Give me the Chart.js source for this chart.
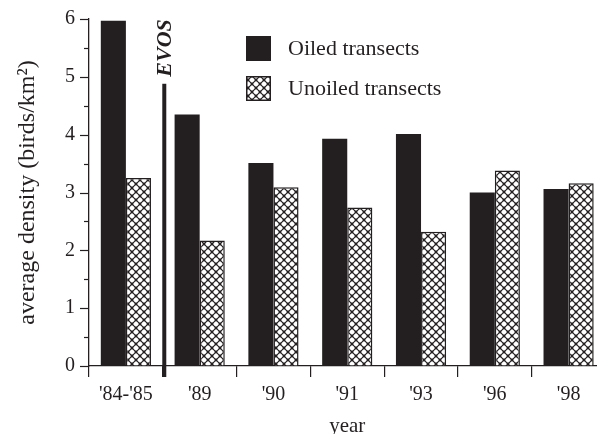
<!DOCTYPE html>
<html>
<head>
<meta charset="utf-8">
<script src="https://cdn.jsdelivr.net/npm/chart.js@4"></script>
<style>
  html, body { margin: 0; padding: 0; background: #fff; overflow: hidden; }
  #wrap { width: 597px; height: 434px; overflow: hidden; }
  canvas { display: block; }
</style>
</head>
<body>
<div id="wrap"><canvas id="chart" width="615" height="434"></canvas></div>
<script>
// Survey years and mean bird densities on oiled vs. unoiled transects
const years = ["'84-'85", "'89", "'90", "'91", "'93", "'96", "'98"];
const oiled = [5.97, 4.35, 3.51, 3.93, 4.01, 3.00, 3.06];
const unoiled = [3.25, 2.17, 3.09, 2.74, 2.32, 3.38, 3.16];
const seriesNames = ['Oiled transects', 'Unoiled transects'];
const yTicks = [0, 1, 2, 3, 4, 5, 6];

// Oil spill marker: drawn between the first two survey periods
const spillLabel = 'EVOS';
const spillTop = 4.88;

const INK = '#231f20';
const SERIF = "'Liberation Serif', 'Times New Roman', serif";

function crossHatch() {
  const c = document.createElement('canvas');
  c.width = 8; c.height = 8;
  const g = c.getContext('2d');
  g.fillStyle = '#fff';
  g.fillRect(0, 0, 8, 8);
  g.strokeStyle = INK;
  g.lineWidth = 1.2;
  g.beginPath();
  g.moveTo(-1, -1); g.lineTo(9, 9);
  g.moveTo(9, -1); g.lineTo(-1, 9);
  g.stroke();
  g.fillStyle = INK;
  [[0, 0], [8, 0], [0, 8], [8, 8], [4, 4]].forEach(([x, y]) => {
    g.beginPath(); g.arc(x, y, 1.4, 0, Math.PI * 2); g.fill();
  });
  return g.createPattern(c, 'repeat');
}
const hatch = crossHatch();

// Axis tick marks (major + half-unit minor), spill marker and legend
const extras = {
  id: 'extras',
  afterDraw(chart) {
    const ctx = chart.ctx;
    const y = chart.scales.y, x = chart.scales.x;
    const ax = chart.chartArea.left;
    ctx.save();
    ctx.strokeStyle = INK;
    ctx.lineWidth = 1.2;
    for (let v = yTicks[0]; v <= yTicks[yTicks.length - 1] + 1e-9; v += 0.5) {
      const py = Math.round(y.getPixelForValue(v)) + 0.5;
      const len = Number.isInteger(v) ? 9 : 5;
      ctx.beginPath();
      ctx.moveTo(ax - len, py);
      ctx.lineTo(ax, py);
      ctx.stroke();
    }

    // spill marker line
    const mx = (x.getPixelForValue(0) + x.getPixelForValue(1)) / 2 + 1.5;
    const top = y.getPixelForValue(spillTop);
    const bottom = y.getPixelForValue(0) + 11;
    ctx.fillStyle = INK;
    ctx.fillRect(mx - 2, top, 4, bottom - top);

    // spill label, rotated
    ctx.save();
    ctx.translate(mx + 7, y.getPixelForValue(5.5));
    ctx.rotate(-Math.PI / 2);
    ctx.font = "italic bold 22px " + SERIF;
    ctx.textAlign = 'center';
    ctx.textBaseline = 'alphabetic';
    ctx.fillText(spillLabel, 0, 0);
    ctx.restore();

    // legend
    const lx = 246, ly = [36, 76], box = 25;
    chart.data.datasets.forEach((ds, i) => {
      ctx.fillStyle = ds.backgroundColor;
      ctx.fillRect(lx, ly[i], box, box);
      if (ds.borderWidth) {
        ctx.lineWidth = 1.5;
        ctx.strokeStyle = INK;
        ctx.strokeRect(lx + 0.75, ly[i] + 0.75, box - 1.5, box - 1.5);
      }
      ctx.fillStyle = INK;
      ctx.font = "22px " + SERIF;
      ctx.textAlign = 'left';
      ctx.textBaseline = 'middle';
      ctx.fillText(ds.label, 288, ly[i] + box / 2 + 1);
    });
    ctx.restore();
  }
};

function fixPadding(s) {
  s.paddingTop = 0; s.paddingBottom = 0; s.paddingLeft = 0; s.paddingRight = 0;
}

new Chart(document.getElementById('chart'), {
  type: 'bar',
  data: {
    labels: years,
    datasets: [
      { label: seriesNames[0], data: oiled, backgroundColor: INK, borderWidth: 0 },
      { label: seriesNames[1], data: unoiled, backgroundColor: hatch, borderColor: INK, borderWidth: 1.5 }
    ]
  },
  options: {
    responsive: false,
    animation: false,
    devicePixelRatio: 1,
    layout: { padding: { left: 0, right: 9.5, top: 19, bottom: 0 } },
    datasets: { bar: { categoryPercentage: 0.68, barPercentage: 1.0 } },
    plugins: { legend: { display: false }, tooltip: { enabled: false } },
    scales: {
      x: {
        afterFit(s) { s.height = 68; fixPadding(s); },
        grid: { offset: true, drawOnChartArea: false, drawTicks: true, tickLength: 11, color: INK, lineWidth: 1.2 },
        border: { display: true, color: INK, width: 1.3 },
        ticks: { color: INK, font: { family: SERIF, size: 20 }, padding: 6 },
        title: { display: true, text: 'year', color: INK, font: { family: SERIF, size: 21, lineHeight: 1 }, padding: { top: 0, bottom: -3 } }
      },
      y: {
        min: 0, max: 6,
        afterFit(s) { s.width = 89; fixPadding(s); },
        afterBuildTicks(s) { s.ticks = yTicks.map(v => ({ value: v })); },
        grid: { drawOnChartArea: false, drawTicks: false },
        border: { display: true, color: INK, width: 1.3 },
        ticks: { color: INK, font: { family: SERIF, size: 20 }, padding: 14 },
        title: { display: true, text: 'average density (birds/km²)', color: INK, font: { family: SERIF, size: 24, lineHeight: 1.2 }, padding: { top: 13, bottom: 0 } }
      }
    }
  },
  plugins: [extras]
});
</script>
</body>
</html>
